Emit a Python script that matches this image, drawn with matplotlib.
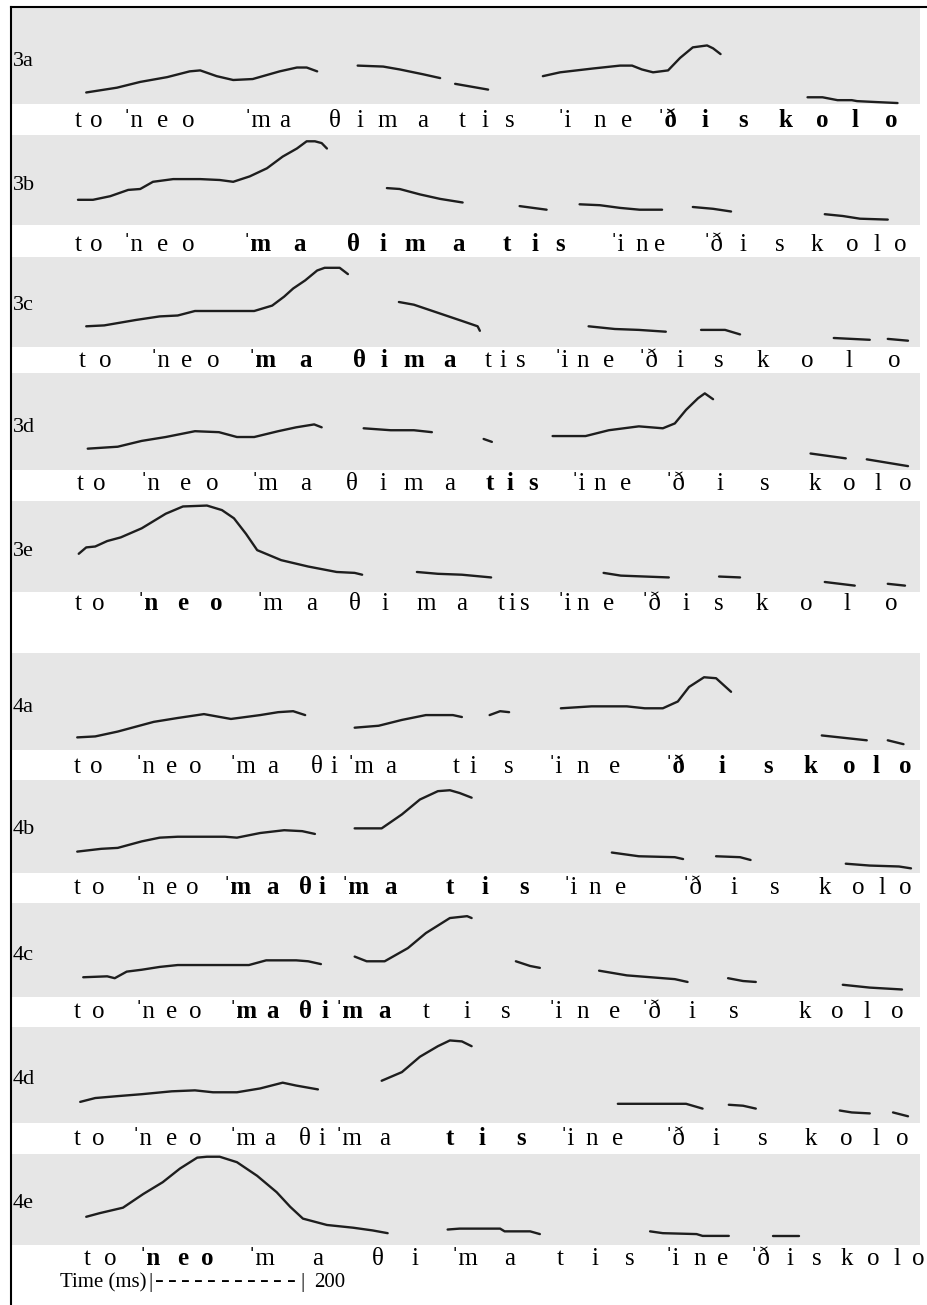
import matplotlib
matplotlib.use("Agg")
import matplotlib.pyplot as plt
from matplotlib import transforms
from matplotlib.lines import Line2D

# pitch contours: segments of (time ms, relative F0 in % of panel range)
contour_3a = [
    [(35, 12), (76, 17), (107, 23), (143, 28), (173, 34), (187, 35), (209, 29), (231, 25), (257, 26),
     (293, 34), (316, 38), (329, 38), (343, 34)],
    [(397, 40), (431, 39), (453, 36), (484, 31), (507, 27)],
    [(527, 21), (571, 15)],
    [(644, 29), (667, 33), (711, 37), (747, 40), (763, 40), (776, 36), (791, 33), (811, 35), (827, 48),
     (844, 59), (863, 61), (871, 58), (881, 52)],
    [(997, 7), (1017, 7), (1037, 4), (1056, 4), (1063, 3), (1089, 2), (1117, 1)],
]
contour_3b = [
    [(24, 28), (44, 28), (67, 32), (91, 39), (107, 40), (124, 48), (151, 51), (187, 51), (213, 50),
     (231, 48), (253, 54), (276, 63), (297, 76), (316, 85), (329, 93), (340, 93), (349, 91), (356, 85)],
    [(436, 41), (453, 40), (480, 34), (507, 29), (537, 25)],
    [(613, 21), (631, 19), (649, 17)],
    [(693, 23), (720, 22), (747, 19), (773, 17), (803, 17)],
    [(844, 20), (871, 18), (895, 15)],
    [(1020, 12), (1044, 10), (1067, 7), (1104, 6)],
]
contour_3c = [
    [(35, 23), (59, 24), (101, 30), (133, 34), (157, 35), (180, 40), (220, 40), (259, 40), (283, 46),
     (299, 56), (311, 65), (327, 74), (343, 85), (353, 88), (373, 88), (384, 81)],
    [(452, 50), (472, 47), (504, 38), (536, 29), (557, 23), (560, 18)],
    [(705, 23), (740, 20), (772, 19), (808, 17)],
    [(855, 19), (887, 19), (907, 14)],
    [(1032, 10), (1056, 9), (1080, 8)],
    [(1104, 9), (1131, 7)],
]
contour_3d = [
    [(37, 22), (77, 24), (109, 30), (141, 34), (180, 40), (212, 39), (236, 34), (259, 34), (291, 40),
     (315, 44), (339, 47), (349, 44)],
    [(405, 43), (441, 41), (472, 41), (496, 39)],
    [(565, 32), (576, 29)],
    [(657, 35), (701, 35), (732, 41), (772, 45), (804, 43), (820, 48), (835, 62), (851, 74), (860, 79),
     (871, 73)],
    [(1001, 17), (1048, 12)],
    [(1076, 11), (1131, 4)],
]
contour_3e = [
    [(25, 42), (35, 49), (47, 50), (63, 56), (81, 60), (109, 70), (141, 86), (164, 94), (196, 95),
     (216, 90), (232, 81), (248, 64), (263, 46), (295, 35), (331, 28), (369, 22), (393, 21), (403, 19)],
    [(476, 22), (504, 20), (536, 19), (575, 16)],
    [(725, 21), (748, 18), (780, 17), (812, 16)],
    [(879, 17), (907, 16)],
    [(1020, 11), (1060, 7)],
    [(1104, 9), (1127, 7)],
]
contour_4a = [
    [(23, 13), (47, 14), (77, 19), (125, 29), (157, 33), (192, 37), (228, 32), (267, 36), (291, 39),
     (311, 40), (327, 36)],
    [(393, 23), (425, 25), (456, 31), (488, 36), (524, 36), (536, 34)],
    [(573, 36), (587, 40), (599, 39)],
    [(668, 43), (709, 45), (756, 45), (780, 43), (804, 43), (824, 50), (839, 65), (859, 75), (875, 74),
     (895, 60)],
    [(1016, 15), (1040, 13), (1076, 10)],
    [(1104, 10), (1125, 6)],
]
contour_4b = [
    [(23, 23), (55, 26), (77, 27), (109, 34), (133, 38), (157, 39), (220, 39), (236, 38), (267, 43),
     (299, 46), (323, 45), (340, 42)],
    [(393, 48), (429, 48), (456, 63), (480, 79), (504, 88), (520, 89), (533, 86), (549, 81)],
    [(736, 22), (772, 18), (820, 17), (831, 15)],
    [(875, 18), (907, 17), (921, 14)],
    [(1048, 10), (1080, 8), (1119, 7), (1135, 5)],
]
contour_4c = [
    [(31, 21), (63, 22), (73, 20), (89, 27), (109, 29), (133, 32), (157, 34), (252, 34), (275, 39),
     (315, 39), (331, 38), (348, 35)],
    [(393, 43), (409, 38), (433, 38), (464, 52), (488, 68), (520, 84), (543, 86), (549, 84)],
    [(608, 38), (627, 33), (640, 31)],
    [(719, 28), (756, 23), (788, 21), (820, 19), (837, 16)],
    [(891, 20), (911, 17), (928, 16)],
    [(1044, 13), (1080, 10), (1123, 8)],
]
contour_4d = [
    [(27, 22), (47, 26), (77, 28), (109, 30), (149, 33), (180, 34), (204, 32), (236, 32), (267, 36),
     (297, 42), (315, 39), (344, 35)],
    [(429, 44), (456, 53), (480, 69), (504, 80), (520, 86), (536, 85), (549, 80)],
    [(744, 20), (835, 20), (857, 15)],
    [(892, 19), (911, 18), (928, 15)],
    [(1040, 13), (1056, 11), (1080, 10)],
    [(1111, 11), (1131, 7)],
]
contour_4e = [
    [(35, 31), (53, 35), (84, 41), (111, 56), (137, 69), (160, 84), (183, 96), (196, 97), (213, 97),
     (236, 91), (263, 76), (289, 58), (307, 42), (324, 29), (356, 22), (391, 19), (417, 16), (437, 13)],
    [(517, 17), (533, 18), (587, 18), (593, 15), (627, 15), (640, 12)],
    [(787, 15), (804, 13), (849, 12), (857, 10), (892, 10)],
    [(951, 10), (985, 10)],
]

# segment transcription and where each segment sits in time (ms)
tokens_3 = ["t", "o", "ˈn", "e", "o", "ˈm", "a", "θ", "i", "m", "a", "t", "i", "s",
            "ˈi", "n", "e", "ˈð", "i", "s", "k", "o", "l", "o"]
tokens_4 = ["t", "o", "ˈn", "e", "o", "ˈm", "a", "θ", "i", "ˈm", "a", "t", "i", "s",
            "ˈi", "n", "e", "ˈð", "i", "s", "k", "o", "l", "o"]

seg_3a = [24, 49, 97, 137, 171, 263, 300, 367, 400, 437, 483, 537, 567, 600, 673, 720, 756, 809, 860, 911, 967, 1016, 1060, 1108]
seg_3b = [24, 49, 97, 137, 171, 263, 320, 391, 431, 473, 531, 596, 633, 667, 743, 776, 800, 871, 911, 960, 1009, 1057, 1089, 1120]
seg_3c = [30, 61, 133, 169, 205, 269, 328, 400, 432, 472, 520, 571, 591, 615, 669, 697, 732, 784, 827, 879, 937, 996, 1052, 1112]
seg_3d = [27, 53, 120, 167, 203, 273, 327, 389, 431, 471, 520, 573, 600, 631, 691, 720, 755, 820, 880, 940, 1007, 1053, 1091, 1127]
seg_3e = [24, 51, 117, 164, 208, 279, 335, 393, 433, 488, 536, 589, 603, 620, 673, 697, 732, 788, 835, 879, 936, 995, 1050, 1108]
seg_4a = [23, 48, 113, 149, 180, 244, 283, 343, 365, 401, 441, 528, 551, 599, 661, 697, 740, 820, 883, 945, 1001, 1052, 1088, 1127]
seg_4b = [23, 51, 113, 149, 176, 236, 283, 327, 349, 393, 441, 520, 567, 619, 681, 713, 748, 843, 899, 953, 1020, 1064, 1096, 1127]
seg_4c = [23, 51, 113, 149, 180, 244, 283, 327, 353, 385, 433, 488, 543, 595, 661, 697, 740, 788, 843, 899, 993, 1036, 1076, 1116]
seg_4d = [23, 51, 109, 149, 180, 244, 279, 327, 349, 385, 433, 520, 563, 615, 677, 709, 744, 820, 875, 937, 1001, 1048, 1088, 1123]
seg_4e = [36, 67, 120, 164, 197, 269, 344, 424, 473, 540, 600, 667, 713, 760, 817, 853, 884, 933, 973, 1009, 1049, 1084, 1116, 1144]

# focused (bold) stretch of each utterance: first and last token index
focus_3a = (17, 23)
focus_3b = (5, 13)
focus_3c = (5, 10)
focus_3d = (11, 13)
focus_3e = (2, 4)
focus_4a = (17, 23)
focus_4b = (5, 13)
focus_4c = (5, 10)
focus_4d = (11, 13)
focus_4e = (2, 4)

panels = [
    ("3a", contour_3a, tokens_3, seg_3a, focus_3a),
    ("3b", contour_3b, tokens_3, seg_3b, focus_3b),
    ("3c", contour_3c, tokens_3, seg_3c, focus_3c),
    ("3d", contour_3d, tokens_3, seg_3d, focus_3d),
    ("3e", contour_3e, tokens_3, seg_3e, focus_3e),
    ("4a", contour_4a, tokens_4, seg_4a, focus_4a),
    ("4b", contour_4b, tokens_4, seg_4b, focus_4b),
    ("4c", contour_4c, tokens_4, seg_4c, focus_4c),
    ("4d", contour_4d, tokens_4, seg_4d, focus_4d),
    ("4e", contour_4e, tokens_4, seg_4e, focus_4e),
]

# layout in pixels (figure is 927 x 1305)
W, H = 927, 1305
band_top = [8, 135, 257, 373, 501, 653, 780, 903, 1027, 1154]
band_bot = [104, 225, 347, 470, 592, 750, 873, 997, 1123, 1245]
label_y = [62, 185, 305, 428, 552, 707, 830, 955, 1080, 1203]
text_base = [127, 251, 367, 490, 610, 773, 894, 1018, 1145, 1265]
band_x0, band_x1 = 12, 920
t_left, t_right = -64, 1147   # time range spanned by the grey band

serif = ["Liberation Serif", "DejaVu Serif"]
fs = 18

fig = plt.figure(figsize=(W / 100, H / 100), dpi=100)
fig.patch.set_facecolor("white")

for i, (name, contour, toks, times, focus) in enumerate(panels):
    y0, y1 = band_top[i], band_bot[i]
    ax = fig.add_axes([band_x0 / W, 1 - y1 / H, (band_x1 - band_x0) / W, (y1 - y0) / H])
    ax.set_facecolor("#e6e6e6")
    ax.set_xlim(t_left, t_right)
    ax.set_ylim(0, 100)
    for s in ax.spines.values():
        s.set_visible(False)
    ax.set_xticks([])
    ax.set_yticks([])

    for seg in contour:
        ts = [p[0] for p in seg]
        fv = [p[1] for p in seg]
        ax.plot(ts, fv, color="#1e1e1e", lw=1.7, solid_capstyle="round", clip_on=False)

    fig.text(13 / W, 1 - label_y[i] / H, name, fontsize=16, family=serif,
             ha="left", va="center")

    trans = transforms.blended_transform_factory(ax.transData, fig.transFigure)
    for j, (tok, tm) in enumerate(zip(toks, times)):
        bold = focus[0] <= j <= focus[1]
        ax.text(tm, 1 - text_base[i] / H, tok, transform=trans, fontsize=fs, family=serif,
                fontweight="bold" if bold else "normal", ha="center", va="baseline",
                clip_on=False)

# time scale line written as text, as in the original
yb = 1 - 1287 / H
tfs = 15
fig.text(60 / W, yb, "Time (ms)", fontsize=tfs, family=serif, ha="left", va="baseline")
fig.text(150 / W, yb, "|", fontsize=tfs, family=serif, ha="center", va="baseline")
for k in range(11):
    fig.text((159 + k * 13.2) / W, yb, "-", fontsize=19, family=serif, ha="center", va="baseline")
fig.text(302 / W, yb, "|", fontsize=tfs, family=serif, ha="center", va="baseline")
fig.text(314 / W, yb, "200", fontsize=tfs, family=serif, ha="left", va="baseline")

# frame on the left and top
fig.add_artist(Line2D([11 / W, 11 / W], [0, 1 - 7 / H], color="black", lw=1.5))
fig.add_artist(Line2D([11 / W, 1], [1 - 7 / H, 1 - 7 / H], color="black", lw=1.5))

fig.savefig("out.png", dpi=100)
